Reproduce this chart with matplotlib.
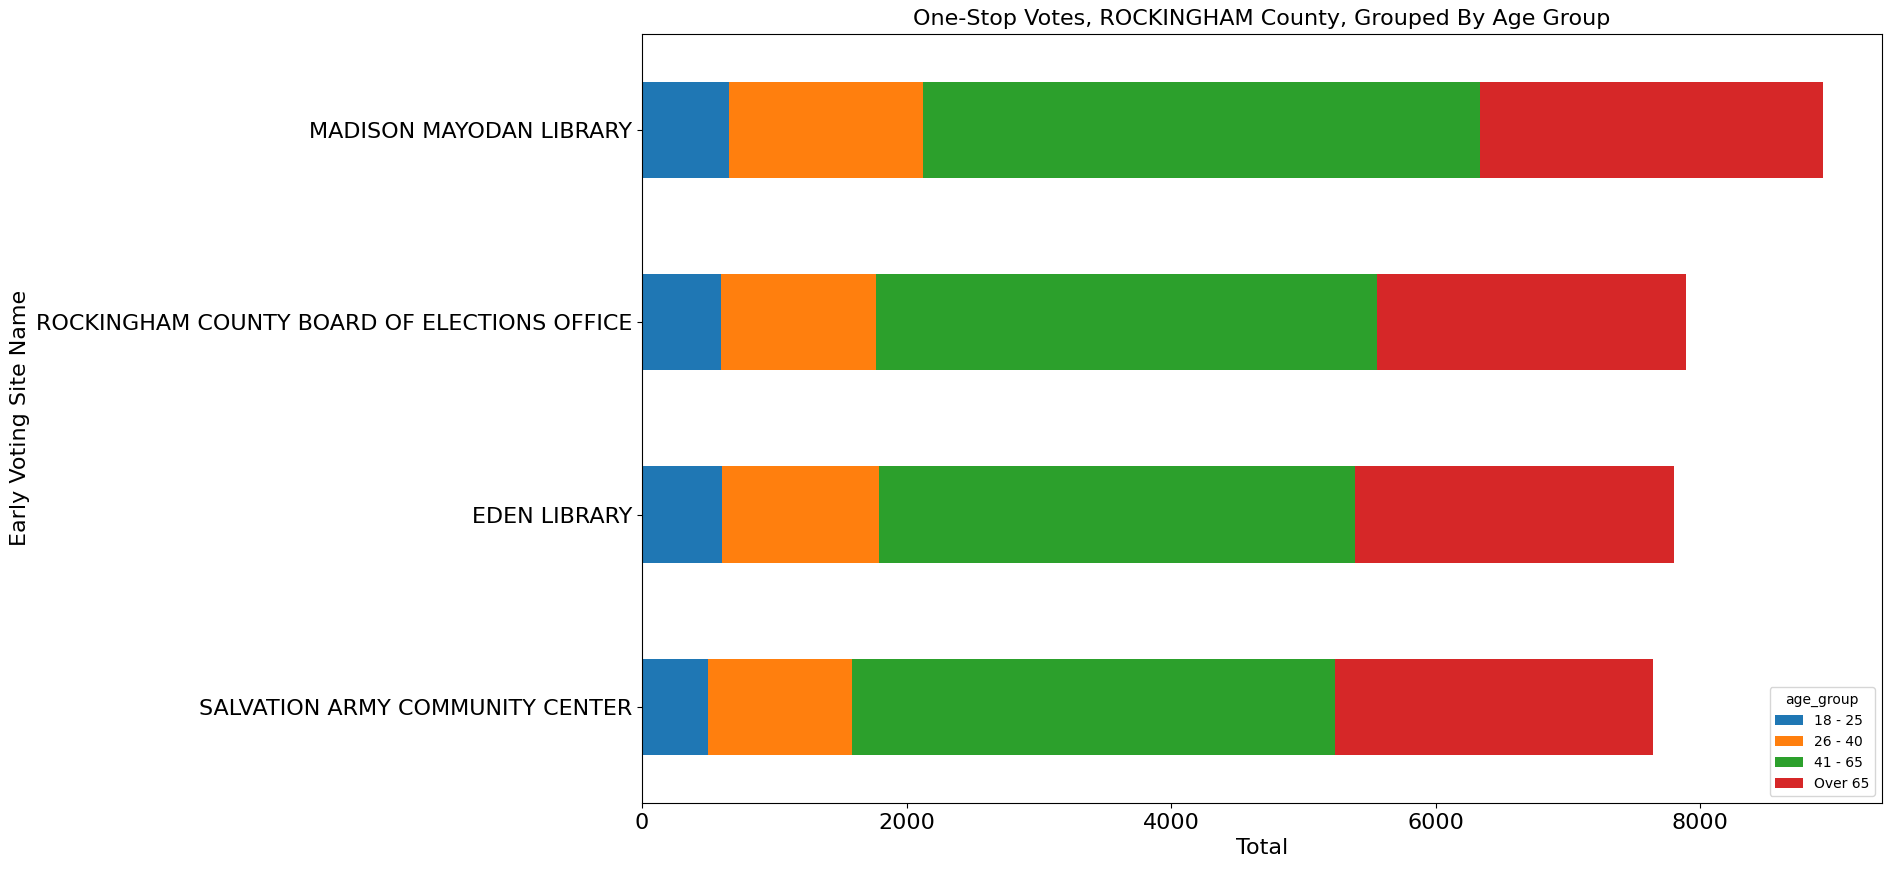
import matplotlib
matplotlib.use("Agg")
import matplotlib.pyplot as plt
import numpy as np

sites = ["SALVATION ARMY COMMUNITY CENTER", "EDEN LIBRARY",
         "ROCKINGHAM COUNTY BOARD OF ELECTIONS OFFICE", "MADISON MAYODAN LIBRARY"]
age_groups = ["18 - 25", "26 - 40", "41 - 65", "Over 65"]
v_18_25 = [499, 605, 597, 658]
v_26_40 = [1088, 1186, 1172, 1466]
v_41_65 = [3651, 3598, 3787, 4210]
v_over65 = [2403, 2411, 2335, 2592]
series = [v_18_25, v_26_40, v_41_65, v_over65]
colors = ["#1f77b4", "#ff7f0e", "#2ca02c", "#d62728"]

fig = plt.figure(figsize=(18.91, 8.69), dpi=100)
ax = fig.add_axes([0.3395, 0.0759, 0.6557, 0.8854])
y = np.arange(len(sites))
left = np.zeros(len(sites))
for name, vals, c in zip(age_groups, series, colors):
    vals = np.array(vals, dtype=float)
    ax.barh(y, vals, height=0.5, left=left, color=c, label=name)
    left += vals
ax.set_ylim(-0.5, len(sites) - 0.5)
ax.set_yticks(y)
ax.set_yticklabels(sites)
ax.tick_params(labelsize=16)
ax.set_xlabel("Total", fontsize=16)
ax.set_ylabel("Early Voting Site Name", fontsize=16)
ax.set_title("One-Stop Votes, ROCKINGHAM County, Grouped By Age Group", fontsize=16)
ax.legend(title="age_group", loc="lower right")
fig.savefig("out.png", dpi=100)
